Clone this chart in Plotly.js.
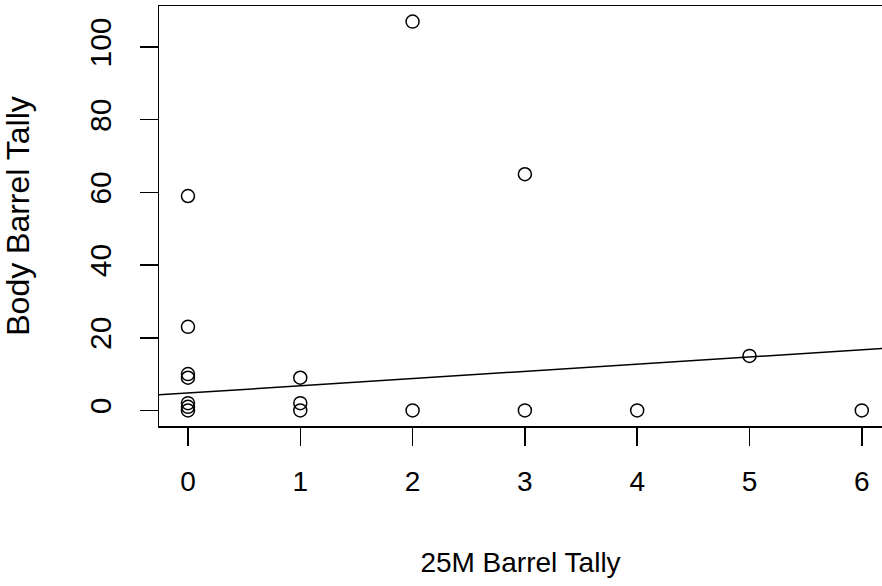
<!DOCTYPE html>
<html>
<head>
<meta charset="utf-8">
<script src="https://cdn.plot.ly/plotly-3.0.1.min.js"></script>
<style>html,body{margin:0;padding:0;background:#fff;}#chart{width:882px;height:586px;}</style>
</head>
<body>
<div id="chart"></div>
<script>
// Data
const tally25M  = [0, 0, 0, 0, 0, 0, 0, 1, 1, 1, 2, 2, 3, 3, 4, 5, 6];
const tallyBody = [59, 23, 10, 9, 2, 1, 0, 9, 2, 0, 107, 0, 65, 0, 0, 15, 0];
const fitIntercept = 4.8;
const fitSlope = 1.98;
const xTicks = [0, 1, 2, 3, 4, 5, 6];
const yTicks = [0, 20, 40, 60, 80, 100];
const xTitle = "25M Barrel Tally";
const yTitle = "Body Barrel Tally";

const xRange = [-0.258, 6.18];
const yRange = [-4.28, 111.28];
const fitX = xRange.slice();
const fitY = fitX.map(x => fitIntercept + fitSlope * x);

const fam = "Liberation Sans, Arial, sans-serif";
const xFont = {family: fam, color: "#000", size: 28};
const yTickFont = {family: fam, color: "#000", size: 30};
const yTitleFont = {family: fam, color: "#000", size: 32};

const traces = [
  {x: tally25M, y: tallyBody, type: "scatter", mode: "markers",
   marker: {symbol: "circle-open", size: 13, color: "#000", line: {width: 1.5, color: "#000"}},
   hoverinfo: "skip", showlegend: false, cliponaxis: false},
  {x: fitX, y: fitY, type: "scatter", mode: "lines",
   line: {color: "#000", width: 1.5}, hoverinfo: "skip", showlegend: false}
];

const layout = {
  width: 882, height: 586,
  margin: {l: 159, r: 0, t: 6, b: 160, pad: 0},
  paper_bgcolor: "#fff", plot_bgcolor: "#fff",
  font: xFont,
  showlegend: false,
  xaxis: {
    range: xRange, tickvals: xTicks, ticktext: xTicks.map(String),
    showgrid: false, zeroline: false,
    showline: true, mirror: true, linecolor: "#000", linewidth: 1.5,
    ticks: "outside", ticklen: 18, tickwidth: 1.5, tickcolor: "#000",
    ticklabelstandoff: 12,
    tickfont: xFont,
    title: {text: xTitle, font: xFont, standoff: 56}
  },
  yaxis: {
    range: yRange, tickvals: yTicks, ticktext: yTicks.map(String),
    tickangle: -90,
    showgrid: false, zeroline: false,
    showline: true, mirror: false, linecolor: "#000", linewidth: 1.5,
    ticks: "outside", ticklen: 18, tickwidth: 1.5, tickcolor: "#000",
    ticklabelstandoff: 17,
    tickfont: yTickFont,
    title: {text: yTitle, font: yTitleFont, standoff: 45}
  }
};

Plotly.newPlot("chart", traces, layout, {displayModeBar: false, staticPlot: true});
</script>
</body>
</html>
